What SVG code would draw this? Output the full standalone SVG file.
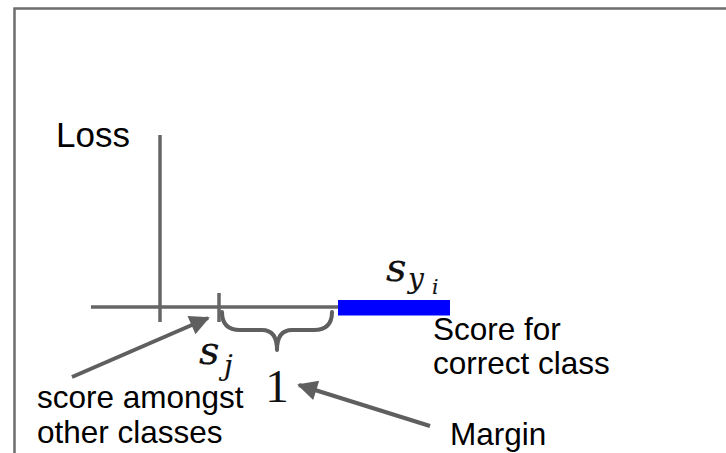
<svg xmlns="http://www.w3.org/2000/svg" width="726" height="453" viewBox="0 0 726 453">
<style>
.ax{stroke:#666666;stroke-width:3.5;fill:none}
.lbl{font-family:"Liberation Sans",Arial,sans-serif;fill:#000}
.math{font-family:"DejaVu Serif","Liberation Serif",serif;font-style:italic;fill:#111;stroke:#111;stroke-width:0.15}
.arr{stroke:#5f5f5f;stroke-width:4;fill:none}
</style>
<defs>
<marker id="ah" viewBox="0 0 10 10" refX="9" refY="5" markerWidth="5.5" markerHeight="5" orient="auto" markerUnits="strokeWidth">
<path d="M0,0 L10,5 L0,10 z" fill="#5f5f5f"/>
</marker>
</defs>
<rect width="726" height="453" fill="#fff"/>
<g id="frame"><path d="M14.5,453 V8.5 H726" stroke="#6e6e6e" stroke-width="2.5" fill="none"/></g>
<g id="axes">
<line class="ax" x1="160" y1="135" x2="160" y2="322"/>
<line class="ax" x1="91" y1="307" x2="339" y2="307"/>
<line class="ax" x1="219" y1="293" x2="219" y2="322"/>
</g>
<g id="correct-score"><rect x="338" y="300" width="112" height="15.5" fill="#0000ff"/></g>
<g id="brace"><path d="M222,312 Q222,330 240,330 H262 Q277,330 277,350 Q277,330 292,330 H314 Q332,330 332,312" stroke="#5f5f5f" stroke-width="4" fill="none" stroke-linecap="round" stroke-linejoin="round"/></g>
<g id="loss-label"><text class="lbl" x="56" y="147" font-size="35">Loss</text></g>
<g id="syi-label"><text class="math" x="386" y="281" font-size="40">s</text><text class="math" x="408" y="288" font-size="28">y</text><text class="math" x="432" y="294" font-size="20">i</text></g>
<g id="sj-label"><text class="math" x="199" y="364" font-size="40">s</text><text class="math" x="224" y="375" font-size="28">j</text></g>
<g id="one-label"><text x="277" y="402" font-size="47" text-anchor="middle" font-family="Liberation Serif,serif" fill="#111">1</text></g>
<g id="score-correct"><text class="lbl" x="433" y="340" font-size="31.5">Score for</text><text class="lbl" x="433" y="374" font-size="31.5">correct class</text></g>
<g id="score-other"><text class="lbl" x="37" y="408" font-size="31.5">score amongst</text><text class="lbl" x="37" y="443" font-size="31.5">other classes</text></g>
<g id="margin-label"><text class="lbl" x="450" y="445" font-size="31.5">Margin</text></g>
<g id="connectors">
<line class="arr" x1="72" y1="377" x2="208" y2="318" marker-end="url(#ah)"/>
<line class="arr" x1="430" y1="426" x2="299" y2="385" marker-end="url(#ah)"/>
</g>
</svg>
